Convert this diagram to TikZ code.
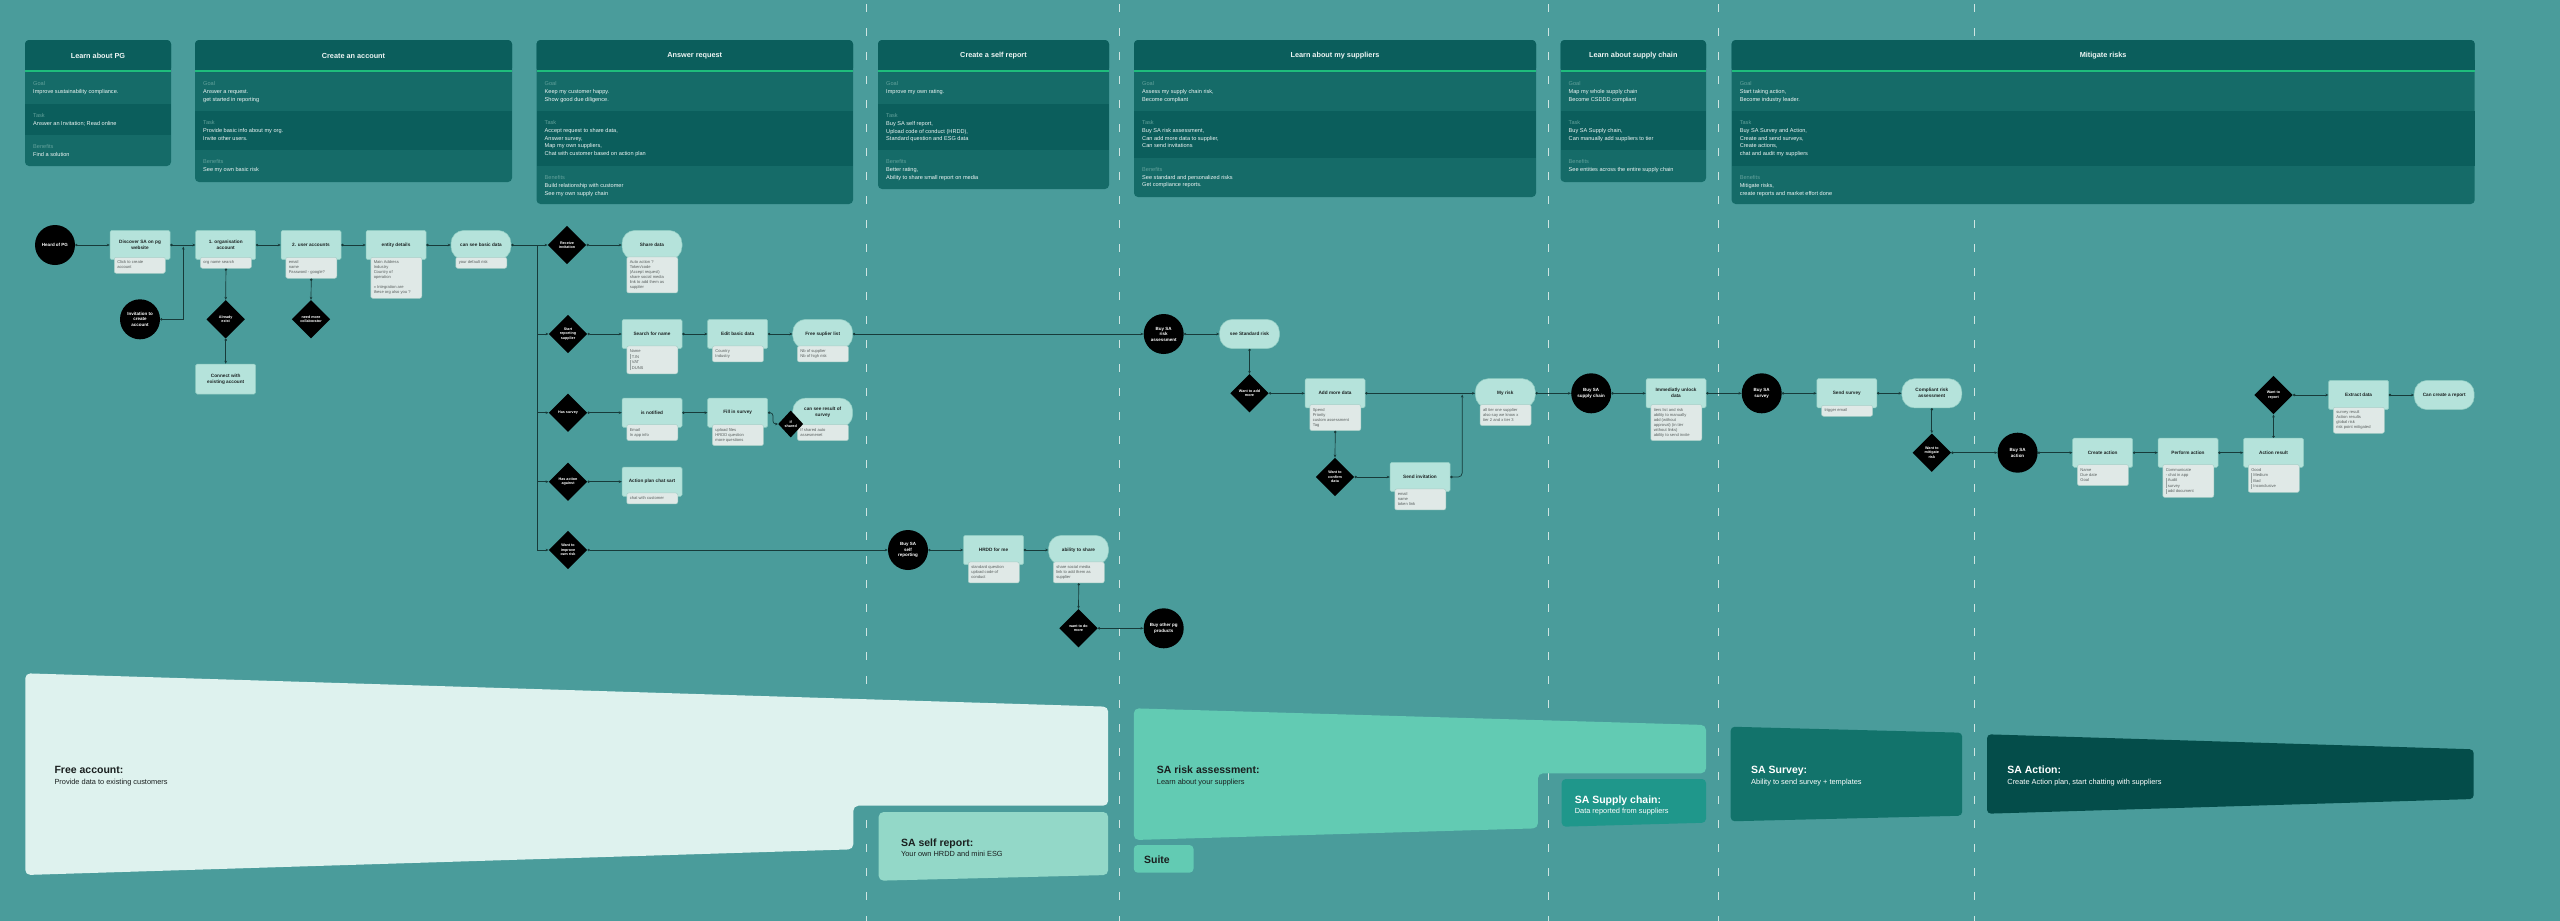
\documentclass[tikz,border=0pt]{standalone}
\usepackage{fontspec}
\setmainfont{Liberation Sans}
\usetikzlibrary{arrows.meta,shapes.geometric}
\definecolor{bgc}{HTML}{4A9C9B}
\definecolor{hdrdark}{HTML}{0B5E5C}
\definecolor{hdrmid}{HTML}{156B68}
\definecolor{greenl}{HTML}{1FBC7C}
\definecolor{lblc}{HTML}{62A19B}
\definecolor{hdrtxt}{HTML}{EEF5F4}
\definecolor{boxc}{HTML}{B5E3DB}
\definecolor{boxborder}{HTML}{8ECBC1}
\definecolor{notec}{HTML}{E0E9E7}
\definecolor{noteborder}{HTML}{A7CEC7}
\definecolor{notetext}{HTML}{585E5D}
\definecolor{boxtext}{HTML}{1D2323}
\definecolor{linec}{HTML}{173B3A}
\definecolor{dashc}{HTML}{CFE5E2}
\definecolor{barc}{HTML}{9AA5A3}
\definecolor{freec}{HTML}{DEF2EE}
\definecolor{selfc}{HTML}{93D8C8}
\definecolor{riskc}{HTML}{62CBB3}
\definecolor{supplyc}{HTML}{1F978B}
\definecolor{surveyc}{HTML}{12736B}
\definecolor{actionc}{HTML}{044D4A}
\definecolor{bandtxt}{HTML}{1A1F1F}

\newcommand\notetxt[1]{\makebox[45pt][l]{\begin{tabular}{@{}l@{}}#1\end{tabular}}}
\newcommand\nbar[1]{{\color{barc}\rule[-0.9pt]{0.5pt}{5pt}}\hspace{1.6pt}#1}

\tikzset{
  fbox/.style={rectangle, fill=boxc, draw=boxborder, line width=0.5pt, rounded corners=1.5pt,
    minimum width=60pt, minimum height=29.3pt, inner sep=1pt, align=center,
    font=\fontsize{4.7}{6}\selectfont\bfseries, text=boxtext},
  fpill/.style={fbox, rounded corners=13pt},
  fnote/.style={rectangle, fill=notec, draw=noteborder, line width=0.5pt, rounded corners=2pt,
    anchor=north west, inner xsep=3pt, inner ysep=3pt,
    font=\fontsize{4.1}{5}\selectfont, text=notetext},
  bcirc/.style={circle, fill=black, minimum size=40pt, inner sep=0pt, align=center,
    text=white, font=\fontsize{4.5}{5.5}\selectfont\bfseries},
  bdia/.style={diamond, fill=black, minimum width=38.5pt, minimum height=38.5pt, inner sep=0pt,
    align=center, text=white, font=\fontsize{3.7}{4.5}\selectfont\bfseries},
  conn/.style={draw=linec, line width=0.7pt, {Circle[length=2.4pt]}-{Stealth[length=3pt,width=2.6pt]}},
  connn/.style={draw=linec, line width=0.7pt, -{Stealth[length=3pt,width=2.6pt]}},
  hdrtitle/.style={font=\fontsize{7.3}{8.5}\selectfont\bfseries, text=hdrtxt, inner sep=0pt},
  hrowtext/.style={anchor=north west, inner sep=0pt, align=left,
    font=\fontsize{5.6}{7.7}\selectfont, text=hdrtxt},
  bandtitle/.style={anchor=base west, inner sep=0pt, font=\fontsize{10.5}{12}\selectfont\bfseries},
  bandsub/.style={anchor=base west, inner sep=0pt, font=\fontsize{7.4}{8}\selectfont},
}

\newcommand\hdrbox[7]{%
  \fill[hdrmid,rounded corners=4pt] (#2,40) rectangle (#3,#4);
  \fill[hdrdark,rounded corners=4pt] (#2,40) rectangle (#3,72);
  \fill[hdrdark] (#2,60) rectangle (#3,72);
  \fill[hdrdark] (#2,#5) rectangle (#3,#6);
  \fill[greenl] (#2,70.3) rectangle (#3,72);
  \node[hdrtitle] (#1) at ({(#2+#3)/2},55.7) {#7};
}
\newcommand\hrow[5]{\node[hrowtext] (#1) at ({#2+8},{#3+8.1}) {\strut\textcolor{lblc}{#4}\\#5};}

\begin{document}
\begin{tikzpicture}[x=1pt,y=-1pt]
\useasboundingbox (0,0) rectangle (2560,921);
\fill[bgc] (0,0) rectangle (2560,921);

% separators
\foreach \xx in {866,1119.5,1548,1718,1974}
  \draw[dashc, line width=0.8pt, dash pattern=on 8pt off 16pt] (\xx,4) -- (\xx,921);

% ---------- headers ----------
\hdrbox{h1}{25}{171}{166}{104}{134.7}{Learn about PG}
\hrow{h1g}{25}{72}{Goal}{Improve sustainability compliance.}
\hrow{h1t}{25}{104}{Task}{Answer an Invitation; Read online}
\hrow{h1b}{25}{134.7}{Benefits}{Find a solution}

\hdrbox{h2}{195}{512}{182}{111}{150}{Create an account}
\hrow{h2g}{195}{72}{Goal}{Answer a request.\\get started in reporting}
\hrow{h2t}{195}{111}{Task}{Provide basic info about my org.\\Invite other users.}
\hrow{h2b}{195}{150}{Benefits}{See my own basic risk}

\hdrbox{h3}{536.5}{853}{204}{111}{166}{Answer request}
\hrow{h3g}{536.5}{72}{Goal}{Keep my customer happy.\\Show good due diligence.}
\hrow{h3t}{536.5}{111}{Task}{Accept request to share data,\\Answer survey,\\Map my own suppliers,\\Chat with customer based on action plan}
\hrow{h3b}{536.5}{166}{Benefits}{Build relationship with customer\\See my own supply chain}

\hdrbox{h4}{878}{1109}{189}{104}{150}{Create a self report}
\hrow{h4g}{878}{72}{Goal}{Improve my own rating.}
\hrow{h4t}{878}{104}{Task}{Buy SA self report,\\Upload code of conduct (HRDD),\\Standard question and ESG data}
\hrow{h4b}{878}{150}{Benefits}{Better rating,\\Ability to share small report on media}

\hdrbox{h5}{1134}{1536}{197}{111}{157.7}{Learn about my suppliers}
\hrow{h5g}{1134}{72}{Goal}{Assess my supply chain risk,\\Become compliant}
\hrow{h5t}{1134}{111}{Task}{Buy SA risk assessment,\\Can add more data to supplier,\\Can send invitations}
\hrow{h5b}{1134}{157.7}{Benefits}{See standard and personalized risks\\Get compliance reports.}

\hdrbox{h6}{1560.5}{1706}{182}{111}{150}{Learn about supply chain}
\hrow{h6g}{1560.5}{72}{Goal}{Map my whole supply chain\\Become CSDDD compliant}
\hrow{h6t}{1560.5}{111}{Task}{Buy SA Supply chain,\\Can manually add suppliers to tier}
\hrow{h6b}{1560.5}{150}{Benefits}{See entities across the entire supply chain}

\hdrbox{h7}{1731.6}{2474.7}{204}{111}{166}{Mitigate risks}
\hrow{h7g}{1731.6}{72}{Goal}{Start taking action,\\Become industry leader.}
\hrow{h7t}{1731.6}{111}{Task}{Buy SA Survey and Action,\\Create and send surveys,\\Create actions,\\chat and audit my suppliers}
\hrow{h7b}{1731.6}{166}{Benefits}{Mitigate risks,\\create reports and market effort done}

% ---------- bottom bands ----------
\fill[freec, rounded corners=5pt] (25.3,673.3) -- (1108.2,706.7) -- (1108.2,805.7) -- (853.3,805.7) -- (853.3,849.3) -- (25.3,875) -- cycle;
\fill[selfc, rounded corners=5pt] (878.6,812) -- (1108.2,812) -- (1108.2,875) -- (878.6,880.7) -- cycle;
\fill[riskc, rounded corners=5pt] (1133.8,708.3) -- (1706,725) -- (1706,773.3) -- (1537.9,773.3) -- (1537.9,828.3) -- (1133.8,840) -- cycle;
\fill[riskc, rounded corners=4pt] (1133.8,845) rectangle (1193.5,872.7);
\fill[supplyc, rounded corners=4pt] (1561.7,779) -- (1706,779) -- (1706,822.7) -- (1561.7,826.7) -- cycle;
\fill[surveyc, rounded corners=4pt] (1730.7,726.7) -- (1962.2,732.7) -- (1962.2,815.7) -- (1730.7,821.3) -- cycle;
\fill[actionc, rounded corners=4pt] (1987,734.3) -- (2473.7,749.3) -- (2473.7,799) -- (1987,813.7) -- cycle;

\node[bandtitle, text=bandtxt] (t1) at (54.3,773.5) {Free account:};
\node[bandsub, text=bandtxt] (s1) at (54.3,784) {Provide data to existing customers};
\node[bandtitle, text=bandtxt] (t2) at (900.8,846.3) {SA self report:};
\node[bandsub, text=bandtxt] (s2) at (900.8,856.5) {Your own HRDD and mini ESG};
\node[bandtitle, text=bandtxt] (t3) at (1156.7,773.5) {SA risk assessment:};
\node[bandsub, text=bandtxt] (s3) at (1156.7,784) {Learn about your suppliers};
\node[bandtitle, text=bandtxt] (t4) at (1143.9,863.5) {Suite};
\node[bandtitle, text=white] (t5) at (1574.6,803) {SA Supply chain:};
\node[bandsub, text=white] (s5) at (1574.6,813) {Data reported from suppliers};
\node[bandtitle, text=white] (t6) at (1751,773.5) {SA Survey:};
\node[bandsub, text=white] (s6) at (1751,784) {Ability to send survey + templates};
\node[bandtitle, text=white] (t7) at (2007.2,773.5) {SA Action:};
\node[bandsub, text=white] (s7) at (2007.2,784) {Create Action plan, start chatting with suppliers};

% ---------- flow: create account ----------
\node[bcirc] (heard) at (55,245) {Heard of PG};
\node[fbox] (disc) at (140,245) {Discover SA on pg\\website};
\node[fnote] (discn) at (114,257) {\notetxt{Click to create\\account}};
\node[fbox] (org) at (225.7,245) {1. organisation\\account};
\node[fnote] (orgn) at (200.2,257) {\notetxt{org name search}};
\node[bcirc] (inv) at (140,319.3) {Invitation to\\create\\account};
\node[bdia] (already) at (225.7,319.3) {Already\\exist};
\node[fbox, minimum height=30pt] (connect) at (225.7,379) {Connect with\\existing account};
\node[fbox] (user) at (311,245) {2. user accounts};
\node[fnote] (usern) at (285.5,257) {\notetxt{email\\name\\Password - google?}};
\node[bdia] (collab) at (311,319.3) {need more\\collaborator};
\node[fbox] (entity) at (396,245) {entity details};
\node[fnote] (entityn) at (370.5,257) {\notetxt{Main Address\\Industry\\Country of\\operation\\ \\>> Integration are\\these org also you ?}};
\node[fpill] (basic) at (481,245) {can see basic data};
\node[fnote] (basicn) at (455.5,257) {\notetxt{your default risk}};

% ---------- flow: answer request ----------
\node[bdia] (recv) at (567,245) {Receive\\invitation};
\node[fpill] (share) at (652,245) {Share data};
\node[fnote] (sharen) at (626.5,256.7) {\notetxt{Auto action ?\\Token/code\\(Accept request)\\share social media\\link to add them as\\supplier}};
\node[bdia] (startrep) at (568,334) {Start\\reporting\\supplier};
\node[fbox] (search) at (652,334) {Search for name};
\node[fnote] (searchn) at (626.5,345.7) {\notetxt{Name\\\nbar{T.IN}\\\nbar{VAT}\\\nbar{DUNS}}};
\node[fbox] (edit) at (737.7,334) {Edit basic data};
\node[fnote] (editn) at (712.2,345.7) {\notetxt{Country\\Industry}};
\node[fpill] (free) at (822.7,334) {Free suplier list};
\node[fnote] (freen) at (797.2,345.7) {\notetxt{Nb of supplier\\Nb of high risk}};
\node[bdia] (hassurvey) at (568,412.7) {Has survey};
\node[fbox] (notified) at (652,412.7) {is notified};
\node[fnote] (notifiedn) at (626.5,424.3) {\notetxt{Email\\In app info}};
\node[fbox] (fill) at (737.7,412.7) {Fill in survey};
\node[fnote] (filln) at (712.2,424.3) {\notetxt{upload files\\HRDD question\\more questions}};
\node[fpill] (result) at (822.7,412.7) {can see result of\\survey};
\node[fnote] (resultn) at (797.2,424.3) {\notetxt{If shared auto\\assesmenet}};
\node[bdia, minimum width=25pt, minimum height=27pt] (ifshared) at (790.7,424) {if\\shared};
\node[bdia] (hasaction) at (568,481.7) {Has action\\against};
\node[fbox] (actplan) at (652,481.7) {Action plan chat sart};
\node[fnote] (actplann) at (626.5,492.7) {\notetxt{chat with customer}};
\node[bdia] (improve) at (568,550) {Want to\\improve\\own risk};

% ---------- flow: self report ----------
\node[bcirc] (buyself) at (908,550) {Buy SA\\self\\reporting};
\node[fbox] (hrdd) at (993.5,550) {HRDD for me};
\node[fnote] (hrddn) at (968,561.7) {\notetxt{standard question\\upload code of\\conduct}};
\node[fpill] (abshare) at (1078.5,550) {ability to share};
\node[fnote] (absharen) at (1053,561.7) {\notetxt{share social media\\link to add them as\\supplier}};
\node[bdia] (domore) at (1078.5,628.3) {want to do\\more};
\node[bcirc] (buyother) at (1163.7,628.3) {Buy other pg\\products};

% ---------- flow: suppliers ----------
\node[bcirc] (buyrisk) at (1163.7,334) {Buy SA\\risk\\assessment};
\node[fpill] (stdrisk) at (1249.5,334) {see Standard risk};
\node[bdia] (addmore) at (1249.5,393.3) {Want to add\\more};
\node[fbox] (adddata) at (1335,393.3) {Add more data};
\node[fnote] (adddatan) at (1309.5,404.3) {\notetxt{Spend\\Priority\\custom assessment\\Tag}};
\node[fpill] (myrisk) at (1505.3,393.3) {My risk};
\node[fnote] (myriskn) at (1479.8,404.3) {\notetxt{all tier one supplier\\also say we know x\\tier 2 and x tier 3}};
\node[bdia] (confirm) at (1335,477) {Want to\\confirm\\data};
\node[fbox] (sendinv) at (1420,477) {Send invitation};
\node[fnote] (sendinvn) at (1394.5,488.7) {\notetxt{email\\name\\token link}};
\node[bcirc] (buychain) at (1591.2,393.3) {Buy SA\\supply chain};
\node[fbox] (unlock) at (1676,393.3) {Immediatly unlock\\data};
\node[fnote] (unlockn) at (1650.5,404.3) {\notetxt{tiers list and risk\\ability to manually\\add (without\\approval) (in tier\\without links)\\ability to send invite}};

% ---------- flow: mitigate ----------
\node[bcirc] (buysurvey) at (1761.7,393.3) {Buy SA\\survey};
\node[fbox] (sendsurvey) at (1846.8,393.3) {Send survey};
\node[fnote] (sendsurveyn) at (1821.3,405) {\notetxt{trigger email}};
\node[fpill] (compliant) at (1931.8,393.3) {Compliant risk\\assessment};
\node[bdia] (mitigate) at (1931.8,452.7) {Want to\\mitigate\\risk};
\node[bcirc] (buyaction) at (2017.6,452.7) {Buy SA\\action};
\node[fbox] (create) at (2102.7,452.7) {Create action};
\node[fnote] (createn) at (2077.2,464.3) {\notetxt{Name\\Due date\\Goal}};
\node[fbox] (perform) at (2188,452.7) {Perform action};
\node[fnote] (performn) at (2162.5,464.3) {\notetxt{Communicate\\- chat in app\\\nbar{Audit}\\\nbar{survey}\\\nbar{add document}}};
\node[fbox] (actres) at (2273.5,452.7) {Action result};
\node[fnote] (actresn) at (2248,464.3) {\notetxt{Good\\\nbar{Medium}\\\nbar{Bad}\\\nbar{Inconclusive}}};
\node[bdia] (report) at (2273.5,395) {Want to\\report};
\node[fbox] (extract) at (2358.6,395) {Extract data};
\node[fnote] (extractn) at (2333.1,407) {\notetxt{survey result\\Action results\\global risk\\risk point mitigated}};
\node[fpill] (cancreate) at (2444.2,395) {Can create a report};

% ---------- connectors ----------
\coordinate (j1) at (183.3,246.6);
\coordinate (bt) at (537,245);
\coordinate (b2) at (537,334);
\coordinate (b3) at (537,412.7);
\coordinate (b4) at (537,481.7);
\coordinate (bb) at (537,550);
\coordinate (j2) at (1462.2,394.6);

\draw[conn] (heard) -- (disc);
\draw[conn] (disc) -- (org);
\draw[conn] (inv.east) -| (j1);
\draw[conn] (org) -- (user);
\draw[conn] (user) -- (entity);
\draw[conn] (entity) -- (basic);
\draw[conn] (orgn.south) -- (already.north);
\draw[conn] (already.south) -- (connect.north);
\draw[conn] (usern.south) -- (collab.north);
\draw[draw=linec, line width=0.7pt, {Circle[length=2.4pt]}-] (basic.east) -- (bt) -- (bb);
\draw[connn] (bt) -- (recv);
\draw[connn] (b2) -- (startrep);
\draw[connn] (b3) -- (hassurvey);
\draw[connn] (b4) -- (hasaction);
\draw[connn] (bb) -- (improve);
\draw[conn] (recv) -- (share);
\draw[conn] (startrep) -- (search);
\draw[conn] (search) -- (edit);
\draw[conn] (edit) -- (free);
\draw[conn] (free) -- (buyrisk);
\draw[conn] (hassurvey) -- (notified);
\draw[conn] (notified) -- (fill);
\draw[conn, rounded corners=3pt] (fill.east) -- ++(5,0) |- (ifshared.west);
\draw[conn] (hasaction) -- (actplan);
\draw[conn] (improve) -- (buyself);
\draw[conn] (buyself) -- (hrdd);
\draw[conn] (hrdd) -- (abshare);
\draw[conn] (absharen.south) -- (domore.north);
\draw[conn] (domore) -- (buyother);
\draw[conn] (buyrisk) -- (stdrisk);
\draw[conn] (stdrisk.south) -- (addmore.north);
\draw[conn] (addmore) -- (adddata);
\draw[conn] (adddata) -- (myrisk);
\draw[conn] (adddatan.south) -- (confirm.north);
\draw[conn] (confirm) -- (sendinv);
\draw[conn, rounded corners=4pt] (sendinv.east) -| (j2);
\draw[conn] (myrisk) -- (buychain);
\draw[conn] (buychain) -- (unlock);
\draw[conn] (unlock) -- (buysurvey);
\draw[conn] (buysurvey) -- (sendsurvey);
\draw[conn] (sendsurvey) -- (compliant);
\draw[conn] (compliant.south) -- (mitigate.north);
\draw[conn] (mitigate) -- (buyaction);
\draw[conn] (buyaction) -- (create);
\draw[conn] (create) -- (perform);
\draw[conn] (perform) -- (actres);
\draw[conn] (actres.north) -- (report.south);
\draw[conn] (report) -- (extract);
\draw[conn] (extract) -- (cancreate);
\end{tikzpicture}
\end{document}
